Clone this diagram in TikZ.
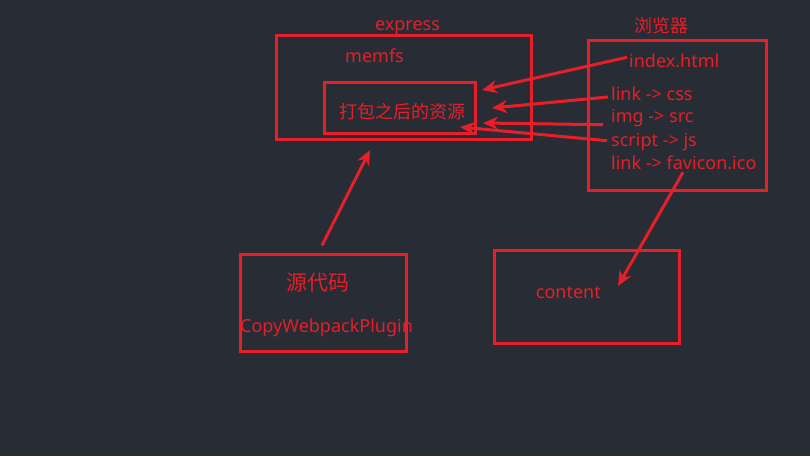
\documentclass[tikz,border=0pt]{standalone}
\usepackage{fontspec}
\setmainfont{Noto Sans}
\newfontfamily\cjk{Noto Sans CJK SC}
\usetikzlibrary{arrows.meta}
\definecolor{bgdark}{RGB}{40,44,52}
\definecolor{linered}{RGB}{232,30,40}
\tikzset{
  box/.style={draw=linered, line width=3pt, inner sep=0pt},
  txt/.style={text=linered, inner sep=0pt, font=\fontsize{18}{21}\selectfont},
  hanzi/.style={text=linered, inner sep=0pt, font=\cjk\fontsize{18}{21}\selectfont},
  fwd/.style={-{Stealth[length=15pt,width=13pt]}, draw=linered, line width=3pt},
}

\begin{document}
\begin{tikzpicture}[x=1pt, y=-1pt]
\useasboundingbox (0,0) rectangle (810,456);
\fill[bgdark] (0,0) rectangle (810,456);

%Boxes
\node[box, minimum width=255pt, minimum height=104pt] (express) at (403.5,87) {};
\node[box, minimum width=151pt, minimum height=51pt] (bundlebox) at (399.5,107.5) {};
\node[box, minimum width=178pt, minimum height=150pt] (browser) at (677,115) {};
\node[box, minimum width=166pt, minimum height=97pt] (source) at (323,302.5) {};
\node[box, minimum width=185pt, minimum height=93pt] (content) at (586.5,296.5) {};

%Texts
\node[txt, anchor=base] (expresstxt) at (407.5,30.7) {express};
\node[txt, anchor=base west] (memfs) at (345,62.7) {memfs};
\node[hanzi] (bundle) at (402.5,111.5) {打包之后的资源};
\node[hanzi] (browsertxt) at (661,26) {浏览器};
\node[txt, anchor=base west] (idx) at (629,67.3) {index.html};
\node[txt, anchor=base west] (css) at (611,100) {link -> css};
\node[txt, anchor=base west] (img) at (611,122.7) {img -> src};
\node[txt, anchor=base west] (js) at (611,146.7) {script -> js};
\node[txt, anchor=base west] (ico) at (611,169.3) {link -> favicon.ico};
\node[hanzi, font=\cjk\fontsize{21}{24}\selectfont] (srccode) at (317.5,282.5) {源代码};
\node[txt, anchor=base west] (plugin) at (240,332.7) {CopyWebpackPlugin};
\node[txt, anchor=base west] (contenttxt) at (535.7,298) {content};

%Arrow tips
\coordinate (tipidx) at (482,90);
\coordinate (tipcss) at (492,108);
\coordinate (tipimg) at (483,123);
\coordinate (tipjs) at (460,127);
\coordinate (tipico) at (618,286);
\coordinate (tipsrc) at (370,150);

%Lines
\draw[fwd] ([xshift=-2pt,yshift=10pt]idx.base west) -- (tipidx);
\draw[fwd] ([xshift=-3pt,yshift=3pt]css.base west) -- (tipcss);
\draw[fwd] ([xshift=-8pt,yshift=-2pt]img.base west) -- (tipimg);
\draw[fwd] ([xshift=-4pt,yshift=6pt]js.base west) -- (tipjs);
\draw[fwd] ([xshift=72pt,yshift=-3pt]ico.base west) -- (tipico);
\draw[fwd] ([xshift=-1pt,yshift=7pt]source.north) -- (tipsrc);
\end{tikzpicture}
\end{document}
